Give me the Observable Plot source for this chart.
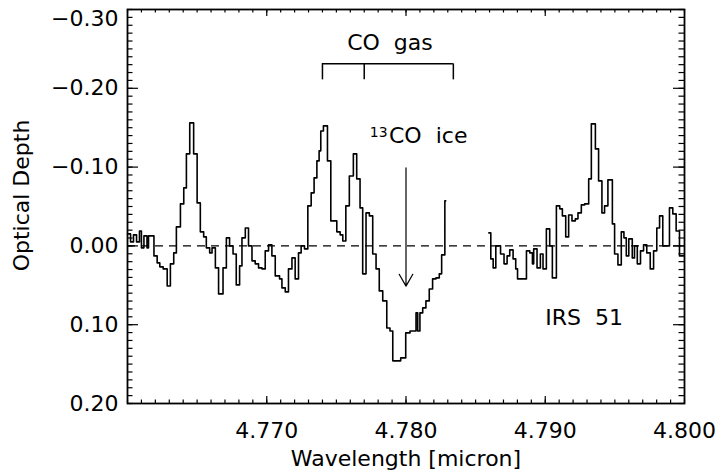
<!DOCTYPE html>
<html><head><meta charset="utf-8">
<script src="https://cdn.jsdelivr.net/npm/d3@7"></script>
<script src="https://cdn.jsdelivr.net/npm/@observablehq/plot@0.6"></script>
<style>body{margin:0;background:#fff}</style>
</head><body><div id="chart"></div>
<script>
// Spectrum segment before the gap (bin left edges, optical depth)
const wavelengthA = [4.76000,4.76022,4.76043,4.76065,4.76086,4.76100,4.76118,4.76140,4.76151,4.76190,
  4.76213,4.76232,4.76256,4.76285,4.76308,4.76332,4.76351,4.76380,4.76404,4.76423,
  4.76447,4.76475,4.76500,4.76523,4.76547,4.76566,4.76590,4.76607,4.76631,4.76654,
  4.76686,4.76710,4.76733,4.76758,4.76781,4.76805,4.76822,4.76846,4.76869,4.76894,
  4.76917,4.76941,4.76966,4.76989,4.77013,4.77037,4.77061,4.77092,4.77109,4.77133,
  4.77156,4.77181,4.77204,4.77228,4.77247,4.77271,4.77295,4.77319,4.77340,4.77360,
  4.77376,4.77388,4.77407,4.77436,4.77460,4.77503,4.77527,4.77546,4.77568,4.77593,
  4.77622,4.77646,4.77670,4.77689,4.77713,4.77737,4.77761,4.77785,4.77808,4.77833,
  4.77862,4.77885,4.77905,4.77962,4.77998,4.78029,4.78072,4.78084,4.78100,4.78120,
  4.78143,4.78167,4.78191,4.78215,4.78239,4.78256,4.78279,4.78285];
const depthA = [-0.0152,-0.0051,-0.0140,-0.0051,-0.0190,0.0025,-0.0127,0.0025,-0.0127,0.0127,
  0.0216,0.0266,0.0292,0.0508,0.0228,0.0089,-0.0241,-0.0533,-0.0736,-0.1168,
  -0.1561,-0.1168,-0.0546,-0.0178,-0.0114,0.0025,0.0089,0.0025,0.0279,0.0609,
  0.0279,-0.0102,0.0000,0.0102,0.0495,0.0254,-0.0102,-0.0228,0.0000,0.0190,
  0.0228,0.0279,0.0292,0.0063,-0.0013,0.0127,0.0381,0.0419,0.0533,0.0584,
  0.0292,0.0152,0.0419,0.0089,0.0000,0.0038,-0.0508,-0.0673,-0.0863,-0.1079,
  -0.1206,-0.1459,-0.1523,-0.1079,-0.0317,-0.0178,-0.0140,-0.0063,-0.0508,-0.0888,
  -0.1168,-0.0850,-0.0482,0.0355,-0.0419,-0.0381,0.0102,0.0292,0.0571,0.0698,
  0.1041,0.1079,0.1459,0.1421,0.1104,0.1079,0.0850,0.1079,0.0850,0.0787,
  0.0698,0.0546,0.0419,0.0406,0.0355,0.0114,-0.0571,-0.0571];
// Spectrum segment after the gap
const wavelengthB = [4.78595,4.78609,4.78626,4.78645,4.78679,4.78704,4.78726,4.78745,4.78769,4.78788,
  4.78801,4.78865,4.78889,4.78908,4.78917,4.78941,4.78965,4.78984,4.79008,4.79032,
  4.79051,4.79080,4.79104,4.79123,4.79147,4.79168,4.79192,4.79216,4.79235,4.79259,
  4.79283,4.79312,4.79331,4.79360,4.79383,4.79407,4.79426,4.79450,4.79482,4.79498,
  4.79522,4.79546,4.79565,4.79582,4.79600,4.79625,4.79641,4.79661,4.79684,4.79706,
  4.79729,4.79754,4.79778,4.79801,4.79821,4.79844,4.79892,4.79916,4.79940,4.79964,4.79993];
const depthB = [-0.0165,0.0165,0.0279,0.0000,0.0102,0.0228,0.0127,0.0051,0.0165,0.0292,
  0.0419,0.0063,0.0089,0.0228,0.0038,0.0279,0.0102,0.0292,-0.0216,0.0000,
  0.0406,-0.0508,-0.0470,-0.0381,-0.0114,-0.0393,-0.0317,-0.0343,-0.0419,-0.0520,
  -0.0533,-0.0850,-0.1548,-0.1231,-0.0825,-0.0419,-0.0508,-0.0838,-0.0279,0.0102,
  0.0241,-0.0178,-0.0102,0.0127,-0.0089,0.0152,0.0000,0.0228,0.0063,-0.0013,
  0.0089,0.0292,0.0063,-0.0228,-0.0381,0.0000,-0.0482,-0.0406,-0.0190,0.0127,0.0127];

const xTickLabels = [4.770, 4.780, 4.790, 4.800];
const yTickLabels = [-0.30, -0.20, -0.10, 0.00, 0.10, 0.20];
const coGasLines = [4.7740, 4.7770, 4.7834];
const iceFeature = 4.7800;

const W = 717, H = 475;
const mL = 127, mR = 33, mT = 9, mB = 72;
const plotW = W - mL - mR, plotH = H - mT - mB;

const segA = wavelengthA.map((x, i) => ({x, y: depthA[i]}));
const segB = wavelengthB.map((x, i) => ({x, y: depthB[i]}));
const xMinor = d3.range(0, 41).map(i => +(4.760 + i * 0.001).toFixed(3));
const yMinor = d3.range(0, 51).map(i => +(-0.30 + i * 0.01).toFixed(2));
const xMajor = xTickLabels.slice(0, 3);
const yMajor = yTickLabels.slice(1, 5);
const fmtY = d3.format(".2f");
const F = "DejaVu Sans";

const chart = Plot.plot({
  width: W, height: H,
  marginLeft: mL, marginRight: mR, marginTop: mT, marginBottom: mB,
  style: {fontFamily: F, background: "white", color: "black"},
  x: {domain: [4.760, 4.800], axis: null},
  y: {domain: [0.20, -0.30], axis: null},
  marks: [
    Plot.ruleY([0], {stroke: "black", strokeWidth: 1.3, strokeDasharray: "8,6"}),
    // ticks
    Plot.ruleX(xMinor, {insetTop: plotH - 3.5, stroke: "black", strokeWidth: 1.2}),
    Plot.ruleX(xMinor, {insetBottom: plotH - 3.5, stroke: "black", strokeWidth: 1.2}),
    Plot.ruleX(xMajor, {insetTop: plotH - 7, stroke: "black", strokeWidth: 1.2}),
    Plot.ruleX(xMajor, {insetBottom: plotH - 7, stroke: "black", strokeWidth: 1.2}),
    Plot.ruleY(yMinor, {insetRight: plotW - 5.5, stroke: "black", strokeWidth: 1.2}),
    Plot.ruleY(yMinor, {insetLeft: plotW - 5.5, stroke: "black", strokeWidth: 1.2}),
    Plot.ruleY(yMajor, {insetRight: plotW - 11, stroke: "black", strokeWidth: 1.2}),
    Plot.ruleY(yMajor, {insetLeft: plotW - 11, stroke: "black", strokeWidth: 1.2}),
    Plot.frame({stroke: "black", strokeWidth: 1.8}),
    // spectrum
    Plot.line(segA, {x: "x", y: "y", curve: "step-after", stroke: "black", strokeWidth: 1.6}),
    Plot.line(segB, {x: "x", y: "y", curve: "step-after", stroke: "black", strokeWidth: 1.6}),
    // tick labels
    Plot.text(xTickLabels, {x: d => d, frameAnchor: "bottom", dy: 27, text: d => d.toFixed(3), fontSize: 22, lineAnchor: "middle", fill: "black"}),
    Plot.text(yTickLabels.slice(1), {y: d => d, frameAnchor: "left", dx: -9, textAnchor: "end", text: d => fmtY(d), fontSize: 22, lineAnchor: "middle", fill: "black"}),
    Plot.text(yTickLabels.slice(0, 1), {y: d => d, frameAnchor: "left", dx: -9, dy: 9, textAnchor: "end", text: d => fmtY(d), fontSize: 22, lineAnchor: "middle", fill: "black"}),
    // axis titles
    Plot.text(["Wavelength [micron]"], {frameAnchor: "bottom", dy: 55, fontSize: 22, lineAnchor: "middle", fill: "black"}),
    Plot.text(["Optical Depth"], {frameAnchor: "left", dx: -106, dy: -11, rotate: -90, textAnchor: "middle", fontSize: 22, lineAnchor: "middle", fill: "black"}),
    // CO gas bracket
    Plot.ruleY([-0.2310], {x1: coGasLines[0], x2: coGasLines[2], stroke: "black", strokeWidth: 1.5}),
    Plot.ruleX(coGasLines, {y1: -0.2310, y2: -0.2107, stroke: "black", strokeWidth: 1.5}),
    Plot.text(["CO\u00a0\u00a0gas"], {x: 4.77885, y: -0.257, fontSize: 22, lineAnchor: "middle", fill: "black"}),
    // 13CO ice
    Plot.text(["13"], {x: 4.77868, y: -0.1440, textAnchor: "end", fontSize: 14, lineAnchor: "middle", fill: "black"}),
    Plot.text(["CO\u00a0\u00a0ice"], {x: 4.77878, y: -0.1396, textAnchor: "start", fontSize: 22, lineAnchor: "middle", fill: "black"}),
    Plot.arrow([iceFeature], {x1: d => d, x2: d => d, y1: -0.099, y2: 0.051, headLength: 17, headAngle: 60, stroke: "black", strokeWidth: 1.2}),
    // source
    Plot.text(["IRS\u00a0\u00a051"], {x: 4.79000, y: 0.0914, textAnchor: "start", fontSize: 22, lineAnchor: "middle", fill: "black"})
  ]
});
document.getElementById("chart").appendChild(chart);
</script>
</body></html>
